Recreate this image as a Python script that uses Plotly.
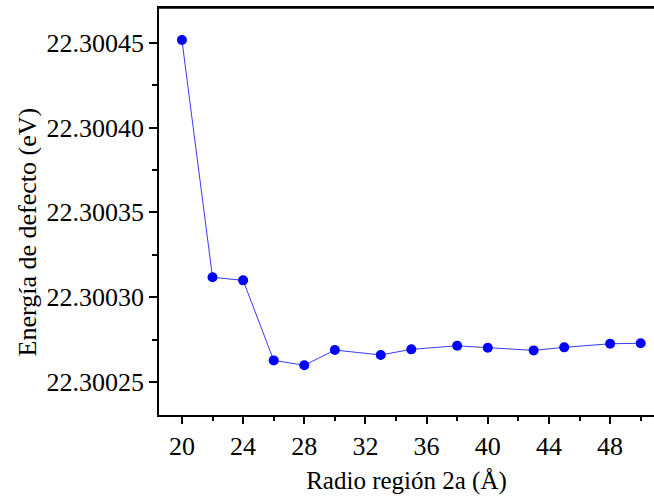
import plotly.graph_objects as go

# Defect energy versus the radius of region 2a
radius = [20, 22, 24, 26, 28, 30, 33, 35, 38, 40, 43, 45, 48, 50]
energy = [22.3004516, 22.3003117, 22.3003099, 22.3002627, 22.3002598,
          22.3002688, 22.3002659, 22.3002692, 22.3002713, 22.3002702,
          22.3002686, 22.3002704, 22.3002725, 22.3002728]

y_ticks = [22.30025, 22.30030, 22.30035, 22.30040, 22.30045]
y_ticktext = ["22.30025", "22.30030", "22.30035", "22.30040", "22.30045"]
y_minor = [22.300275, 22.300325, 22.300375, 22.300425]

x_ticks = [20, 24, 28, 32, 36, 40, 44, 48]
x_ticktext = ["20", "24", "28", "32", "36", "40", "44", "48"]
x_minor = [22, 26, 30, 34, 38, 42, 46, 50]

x_range = [18.5, 50.87]
y_range = [22.3002305, 22.3004705]

FONT = "Liberation Serif"

fig = go.Figure()
fig.add_trace(go.Scatter(
    x=radius, y=energy, mode="lines+markers",
    line=dict(color="#3a3aff", width=1),
    marker=dict(color="#0000ff", size=10),
    showlegend=False,
))

fig.update_layout(
    width=654, height=503,
    margin=dict(l=159, r=0, t=8, b=88),
    paper_bgcolor="white", plot_bgcolor="white",
    font=dict(family=FONT, size=26, color="black"),
    xaxis=dict(
        range=x_range, showgrid=False, zeroline=False,
        showline=True, mirror=True, linecolor="black", linewidth=1.5,
        ticks="outside", ticklen=7, tickwidth=1.5, tickcolor="black",
        tickmode="array", tickvals=x_ticks, ticktext=x_ticktext,
        minor=dict(tickmode="array", tickvals=x_minor, ticks="outside",
                   ticklen=4, tickwidth=1.5, tickcolor="black"),
        title=dict(text="Radio región 2a (Å)", standoff=12,
                   font=dict(family=FONT, size=25)),
        tickfont=dict(family=FONT, size=26),
    ),
    yaxis=dict(
        range=y_range, showgrid=False, zeroline=False,
        showline=True, linecolor="black", linewidth=1.5,
        ticks="outside", ticklen=8, tickwidth=1.5, tickcolor="black",
        tickmode="array", tickvals=y_ticks, ticktext=y_ticktext,
        minor=dict(tickmode="array", tickvals=y_minor, ticks="outside",
                   ticklen=5, tickwidth=1.5, tickcolor="black"),
        tickfont=dict(family=FONT, size=26),
    ),
    annotations=[dict(
        text="Energía de defecto (eV)", textangle=-90,
        xref="paper", yref="paper", x=-0.2667, y=0.451,
        xanchor="center", yanchor="middle", showarrow=False,
        font=dict(family=FONT, size=26, color="black"),
    )],
    # top edge of the frame
    shapes=[dict(
        type="line", xref="paper", yref="paper",
        x0=0, x1=1, y0=1, y1=1,
        line=dict(color="black", width=1.5), layer="above",
    )],
)

fig.write_html("out.html")
